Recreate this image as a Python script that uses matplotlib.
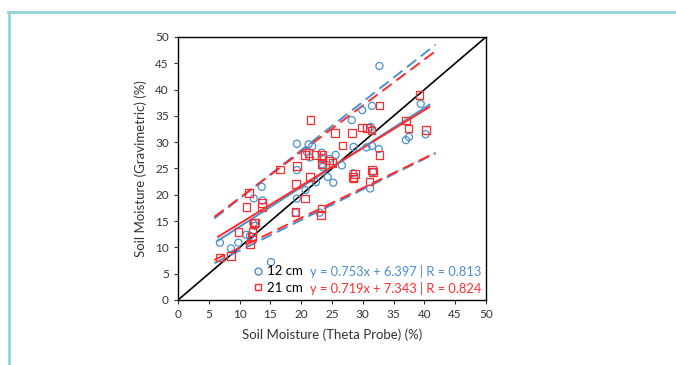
import numpy as np
import matplotlib.pyplot as plt
from matplotlib.lines import Line2D

plt.rcParams['font.family'] = ['Lato', 'DejaVu Sans']

# 12 cm depth (circles)
x12 = [32.7, 39.4, 40.2, 37.0, 37.5, 31.5, 29.9, 28.2, 31.3, 31.5, 28.5, 30.6,
       31.5, 32.6, 23.3, 25.6, 26.6, 24.3, 25.2, 19.3, 21.2, 21.4, 23.4, 19.3,
       22.4, 20.7, 19.3, 28.4, 31.2, 31.7, 13.6, 12.3, 13.7, 19.1, 23.0, 6.8,
       8.6, 9.8, 11.1, 12.2, 15.1, 11.7, 23.4, 23.5, 21.8, 24.6, 12.5, 20.9]
y12 = [44.5, 37.3, 31.5, 30.4, 31.0, 36.9, 36.1, 34.2, 32.9, 32.4, 29.1, 29.0,
       29.3, 28.7, 28.0, 27.6, 25.6, 23.4, 22.3, 29.7, 29.6, 27.1, 25.8, 24.7,
       22.4, 20.9, 19.3, 24.1, 21.2, 24.3, 21.5, 19.3, 18.9, 16.6, 16.6, 10.9,
       9.8, 10.9, 12.4, 14.6, 7.2, 12.2, 26.9, 25.3, 29.2, 26.8, 14.1, 28.2]

# 21 cm depth (squares)
x21 = [39.2, 32.7, 21.5, 29.9, 30.7, 31.4, 28.2, 25.5, 37.0, 37.4, 40.3, 32.7,
       26.7, 20.6, 21.2, 22.4, 23.4, 23.4, 23.4, 24.5, 25.1, 16.6, 19.3, 19.2,
       21.4, 20.6, 28.4, 28.5, 28.7, 31.5, 31.7, 31.1, 23.3, 23.2, 19.1, 11.5,
       11.1, 13.6, 13.6, 12.3, 12.5, 9.8, 12.1, 12.0, 11.7, 6.8, 8.6]
y21 = [39.0, 37.0, 34.2, 32.8, 32.7, 32.2, 31.7, 31.7, 34.1, 32.6, 32.3, 27.6,
       29.4, 27.6, 28.0, 27.6, 27.6, 27.0, 25.8, 26.5, 26.0, 24.8, 25.5, 22.1,
       23.4, 19.3, 23.4, 23.1, 24.0, 24.7, 24.3, 22.5, 17.4, 16.2, 16.7, 20.3,
       17.7, 18.4, 17.7, 14.6, 14.7, 12.9, 12.9, 12.0, 10.6, 8.1, 8.4]

# regression fits and band lines (slope, intercept), x range of lines
fit12 = (0.753, 6.397)
fit21 = (0.719, 7.343)
band12 = [(0.92, 10.07), (0.582, 3.57)]
band21 = [(0.878, 10.62), (0.568, 4.25)]
xfit = [6.5, 40.8]
xband = [5.9, 41.8]

blue = '#4a90d0'
red = '#ff2b2b'

fig = plt.figure(figsize=(6.76, 3.65), dpi=100)
ax = fig.add_axes([178/676, 65/365, 308/676, 263/365])

ax.plot([0, 50], [0, 50], color='black', lw=1.2, zorder=2)

xs = np.array(xfit)
xb = np.array(xband)
ax.plot(xs, fit12[0]*xs + fit12[1], color=blue, lw=1.4)
ax.plot(xs, fit21[0]*xs + fit21[1], color=red, lw=1.4)
for m, b in band12:
    ax.plot(xb, m*xb + b, color=blue, lw=1.4, ls=(0, (6, 3)))
for m, b in band21:
    ax.plot(xb, m*xb + b, color=red, lw=1.4, ls=(0, (6, 3)))

ax.scatter(x12, y12, s=26, marker='o', facecolors='none', edgecolors=blue,
           linewidths=0.9, zorder=3)
ax.scatter(x21, y21, s=30, marker='s', facecolors='none', edgecolors=red,
           linewidths=0.9, zorder=3)

ax.set_xlim(0, 50)
ax.set_ylim(0, 50)
ax.set_xticks(range(0, 51, 5))
ax.set_yticks(range(0, 51, 5))
ax.tick_params(direction='out', length=3, labelsize=8.5, colors='#333333',
               labelcolor='#333333')
for s in ax.spines.values():
    s.set_linewidth(1.0)
ax.set_xlabel('Soil Moisture (Theta Probe) (%)', fontsize=9.5, color='#333333', labelpad=6)
ax.set_ylabel('Soil Moisture (Gravimetric) (%)', fontsize=9.5, color='#333333', labelpad=6)

# legend
h1 = Line2D([], [], ls='none', marker='o', mfc='none', mec=blue, ms=5)
h2 = Line2D([], [], ls='none', marker='s', mfc='none', mec=red, ms=5)
ax.legend([h1, h2], ['12 cm', '21 cm'], loc='lower left',
          bbox_to_anchor=(0.215, -0.012), frameon=False, fontsize=9.5,
          handlelength=0.7, handletextpad=0.35, labelspacing=0.35, borderpad=0.2)
ax.text(0.428, 0.11, 'y = 0.753x + 6.397 | R = 0.813', transform=ax.transAxes,
        color=blue, fontsize=9.3, va='center')
ax.text(0.428, 0.045, 'y = 0.719x + 7.343 | R = 0.824', transform=ax.transAxes,
        color=red, fontsize=9.3, va='center')

# outer frame
frame = '#8fd4d8'
fig.add_artist(Line2D([8/676, 1], [1 - 12/365, 1 - 12/365], color=frame, lw=2,
                      transform=fig.transFigure))
fig.add_artist(Line2D([9/676, 9/676], [0, 1 - 12/365], color=frame, lw=2,
                      transform=fig.transFigure))

fig.savefig('out.png', dpi=100)
